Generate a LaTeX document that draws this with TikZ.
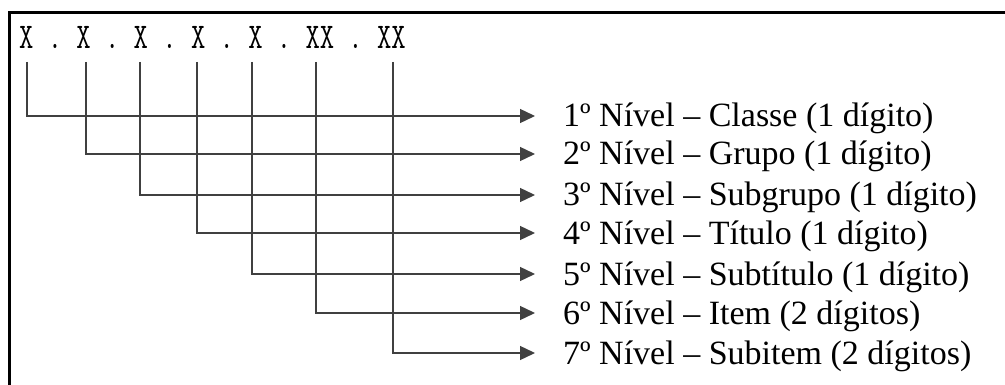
\documentclass[tikz,border=0pt]{standalone}
\usepackage{fontspec}
\setmainfont{Liberation Serif}
\usetikzlibrary{arrows.meta}
\begin{document}
\begin{tikzpicture}[x=1pt,y=-1pt,
  conn/.style={draw=black!75, line width=1.4pt},
  arr/.style={conn,-{Triangle[length=15pt,width=14pt]}},
  lbl/.style={anchor=west, inner xsep=28pt, inner ysep=0pt, text height=22pt, text depth=0pt,
    font=\fontsize{34}{40}\selectfont},
  hdr/.style={anchor=base west, inner sep=0pt, font=\ttfamily\fontsize{27.8}{30}\selectfont},
  frame/.style={draw=black, line width=3pt}
]
\useasboundingbox[fill=white] (0,0) rectangle (1005,385);
\draw[frame] (9,385) -- (9,13) -- (1005,13);

\node[hdr] (h) at (19,49) {\scalebox{1}[1.3]{X . X . X . X . X . XX . XX}};

\coordinate (c1) at (27,62);
\coordinate (c2) at (86,62);
\coordinate (c3) at (140,62);
\coordinate (c4) at (197,62);
\coordinate (c5) at (252,62);
\coordinate (c6) at (316,62);
\coordinate (c7) at (393,62);

\node[lbl] (l1) at (535,116) {1º Nível – Classe (1 dígito)};
\node[lbl] (l2) at (535,154) {2º Nível – Grupo (1 dígito)};
\node[lbl] (l3) at (535,195) {3º Nível – Subgrupo (1 dígito)};
\node[lbl] (l4) at (535,233) {4º Nível – Título (1 dígito)};
\node[lbl] (l5) at (535,274) {5º Nível – Subtítulo (1 dígito)};
\node[lbl] (l6) at (535,313) {6º Nível – Item (2 dígitos)};
\node[lbl] (l7) at (535,353) {7º Nível – Subitem (2 dígitos)};

\foreach \i in {1,...,7} {
  \draw[arr] (c\i) |- (l\i.west);
}
\end{tikzpicture}
\end{document}
